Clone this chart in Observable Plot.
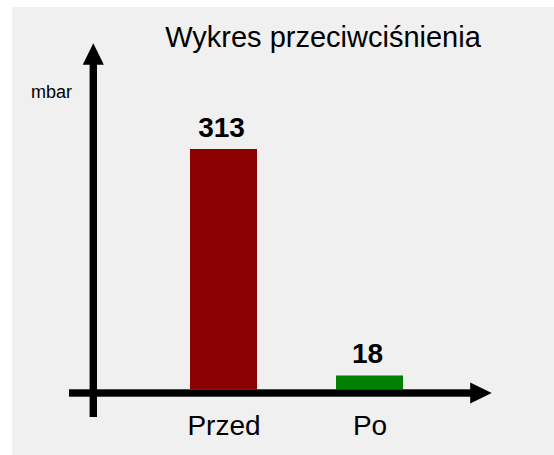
<!DOCTYPE html>
<html><head><meta charset="utf-8">
<script src="https://cdn.jsdelivr.net/npm/d3@7"></script>
<script src="https://cdn.jsdelivr.net/npm/@observablehq/plot@0.6"></script>
<style>
html,body{margin:0;padding:0;background:#fff;}
#wrap{position:absolute;left:12px;top:7px;width:542px;height:448px;background:#f0f0f0;overflow:hidden;}
</style></head><body><div id="wrap"></div>
<script>
const categories = ["Przed", "Po"];
const values = [313, 18];
const colors = ["#8b0000", "#008000"];
const title = "Wykres przeciwciśnienia";
const unitLabel = "mbar";

const data = categories.map((c, i) => ({category: c, value: values[i], color: colors[i]}));
const font = "'Liberation Sans', Arial, Helvetica, sans-serif";

// Decorative arrow axes drawn from the plot's frame dimensions
function arrowAxes(index, scales, channels, dims) {
  const {width, height, marginLeft, marginRight, marginTop, marginBottom} = dims;
  const ax = marginLeft, ay = height - marginBottom;
  const top = marginTop, right = width - marginRight;
  const w = 7.4, headL = 21.5, headW = 10.6;
  const g = d3.create("svg:g").attr("fill", "#000");
  g.append("rect").attr("x", ax - w / 2).attr("y", top + headL - 1)
    .attr("width", w).attr("height", ay + 24 - (top + headL - 1));
  g.append("path").attr("d", `M${ax},${top}L${ax - headW},${top + headL}L${ax + headW},${top + headL}Z`);
  g.append("rect").attr("x", ax - 24.3).attr("y", ay - w / 2)
    .attr("width", right - headL + 1 - (ax - 24.3)).attr("height", w);
  g.append("path").attr("d", `M${right},${ay}L${right - headL},${ay - headW}L${right - headL},${ay + headW}Z`);
  return g.node();
}

const chart = Plot.plot({
  width: 542, height: 448,
  marginLeft: 81.3, marginRight: 62.3, marginTop: 36.3, marginBottom: 62,
  style: {background: "#f0f0f0", fontFamily: font, color: "#000"},
  x: {domain: categories, padding: 0.543, insetLeft: 17.4, insetRight: 9.7, axis: null},
  y: {domain: [0, d3.max(values)], insetTop: 105.7, insetBottom: 3.7, axis: null},
  color: {type: "identity"},
  marks: [
    Plot.barY(data, {x: "category", y: "value", fill: "color"}),
    Plot.text(data, {x: "category", y: "value", text: d => String(d.value), dy: -12.5, dx: -2.5,
      lineAnchor: "bottom", fontSize: 28, fontWeight: "bold", fill: "#000"}),
    arrowAxes,
    Plot.axisX({tickSize: 0, tickPadding: 22, fontSize: 28, label: null}),
    Plot.text([title], {text: d => d, frameAnchor: "top", dx: 30, dy: 3.4, lineAnchor: "bottom",
      fontSize: 29, fill: "#000"}),
    Plot.text([unitLabel], {text: d => d, frameAnchor: "top-left", dx: -42.3, dy: 54.4,
      textAnchor: "middle", lineAnchor: "bottom", fontSize: 18, fill: "#000"})
  ]
});
document.getElementById("wrap").appendChild(chart);
</script></body></html>
